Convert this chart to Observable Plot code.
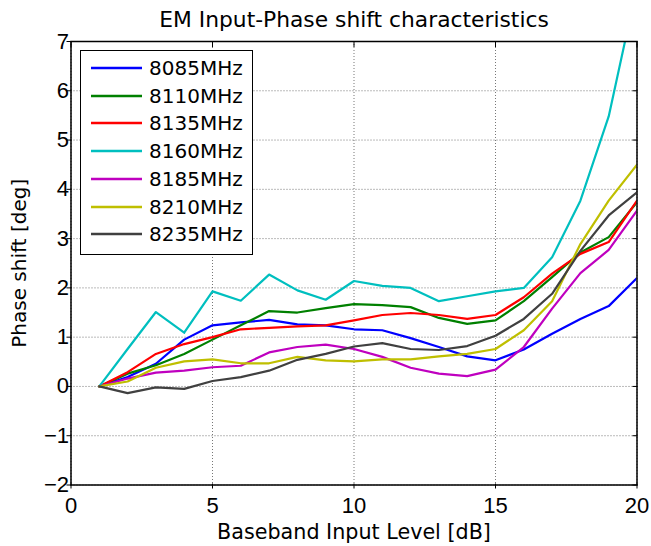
<!DOCTYPE html>
<html><head><meta charset="utf-8">
<script src="https://cdn.jsdelivr.net/npm/d3@7"></script>
<script src="https://cdn.jsdelivr.net/npm/@observablehq/plot@0.6"></script>
<style>
body{margin:0;background:#fff;}
#wrap{position:relative;width:651px;height:546px;font-family:"DejaVu Sans",sans-serif;}
#legend{position:absolute;left:80px;top:50px;width:173px;height:205px;border:1.5px solid #000;background:#fff;box-sizing:border-box;}
.row{position:absolute;left:0;height:28px;display:flex;align-items:center;}
.row svg{margin-left:10px;}
.row span{margin-left:6px;font-size:20px;color:#000;}
</style></head>
<body><div id="wrap"></div>
<script>
const levels = [1,2,3,4,5,6,7,8,9,10,11,12,13,14,15,16,17,18,19,20];
const seriesNames = ["8085MHz","8110MHz","8135MHz","8160MHz","8185MHz","8210MHz","8235MHz"];
const seriesColors = ["#0000ff","#008000","#ff0000","#00bfbf","#bf00bf","#bfbf00","#404040"];
const s8085 = [0,0.19,0.46,0.95,1.24,1.30,1.35,1.26,1.24,1.16,1.14,0.98,0.80,0.61,0.53,0.75,1.07,1.37,1.63,2.20];
const s8110 = [0,0.26,0.43,0.66,0.95,1.24,1.53,1.50,1.59,1.67,1.65,1.61,1.39,1.27,1.34,1.73,2.22,2.72,3.03,3.74];
const s8135 = [0,0.29,0.66,0.86,1.00,1.16,1.19,1.22,1.24,1.34,1.45,1.49,1.45,1.37,1.45,1.81,2.29,2.69,2.93,3.77];
const s8160 = [0,0.76,1.51,1.09,1.93,1.74,2.27,1.95,1.76,2.14,2.04,2.00,1.73,1.83,1.93,2.00,2.62,3.77,5.48,8.12];
const s8185 = [0,0.16,0.28,0.32,0.39,0.42,0.69,0.80,0.85,0.76,0.60,0.38,0.26,0.21,0.34,0.80,1.58,2.30,2.77,3.57];
const s8210 = [0,0.10,0.38,0.51,0.55,0.47,0.47,0.60,0.53,0.51,0.55,0.55,0.61,0.66,0.76,1.14,1.73,2.89,3.77,4.50];
const s8235 = [0,-0.135,-0.02,-0.05,0.11,0.19,0.32,0.54,0.66,0.81,0.88,0.76,0.74,0.82,1.03,1.37,1.88,2.75,3.47,3.94];
const xTicks = [0,5,10,15,20];
const yTicks = [-2,-1,0,1,2,3,4,5,6,7];
const titleText = "EM Input-Phase shift characteristics";
const xLabel = "Baseband Input Level [dB]";
const yLabel = "Phase shift [deg]";

const allSeries = [s8085,s8110,s8135,s8160,s8185,s8210,s8235];
const data = [];
allSeries.forEach((vals,i)=>vals.forEach((v,j)=>data.push({x:levels[j],y:v,s:seriesNames[i]})));

const fmt = d => d < 0 ? "\u2212" + Math.abs(d) : String(d);
const tickFont = '"Liberation Sans",Arial,sans-serif';
const chart = Plot.plot({
  width:651, height:546,
  marginLeft:70.5, marginRight:14.5, marginTop:41, marginBottom:61.5,
  style:{fontFamily:'"DejaVu Sans",sans-serif', fontSize:"20px", color:"#000", background:"#fff"},
  x:{domain:[0,20], ticks:xTicks},
  y:{domain:[-2,7], ticks:yTicks},
  color:{domain:seriesNames, range:seriesColors},
  marks:[
    Plot.gridX(xTicks,{stroke:"#555", strokeOpacity:0.8, strokeDasharray:"1,2", strokeWidth:1}),
    Plot.gridY(yTicks,{stroke:"#555", strokeOpacity:0.8, strokeDasharray:"1,2", strokeWidth:1}),
    Plot.line(data,{x:"x",y:"y",z:"s",stroke:"s",strokeWidth:2.2,clip:true}),
    Plot.axisX(xTicks,{anchor:"bottom", tickSize:-5, tickPadding:13, dy:4, tickFormat:fmt, fontSize:22, fontFamily:tickFont, label:null}),
    Plot.axisX(xTicks,{anchor:"top", tickSize:-5, tickFormat:()=>"", label:null}),
    Plot.axisY(yTicks,{anchor:"left", tickSize:-5, tickPadding:3, dx:-4, tickFormat:fmt, fontSize:22, fontFamily:tickFont, label:null}),
    Plot.axisY(yTicks,{anchor:"right", tickSize:-5, tickFormat:()=>"", label:null}),
    Plot.frame({stroke:"#000", strokeWidth:1.5}),
    Plot.text([titleText],{frameAnchor:"top", lineAnchor:"middle", dy:-21, fontSize:21.8, text:d=>d}),
    Plot.text([xLabel],{frameAnchor:"bottom", lineAnchor:"middle", dy:47, fontSize:20.7, text:d=>d}),
    Plot.text([yLabel],{frameAnchor:"left", textAnchor:"middle", lineAnchor:"middle", dx:-51, rotate:-90, fontSize:20, text:d=>d})
  ]
});
const wrap = document.getElementById("wrap");
wrap.appendChild(chart);
chart.style.position="absolute"; chart.style.left="0"; chart.style.top="0";
const leg = document.createElement("div"); leg.id="legend";
seriesNames.forEach((n,i)=>{
  const r = document.createElement("div"); r.className="row"; r.style.top=(3+i*27.7)+"px";
  r.innerHTML = `<svg width="52" height="4"><line x1="0" y1="2" x2="51" y2="2" stroke="${seriesColors[i]}" stroke-width="2.5"/></svg><span>${n}</span>`;
  leg.appendChild(r);
});
wrap.appendChild(leg);
</script></body></html>
